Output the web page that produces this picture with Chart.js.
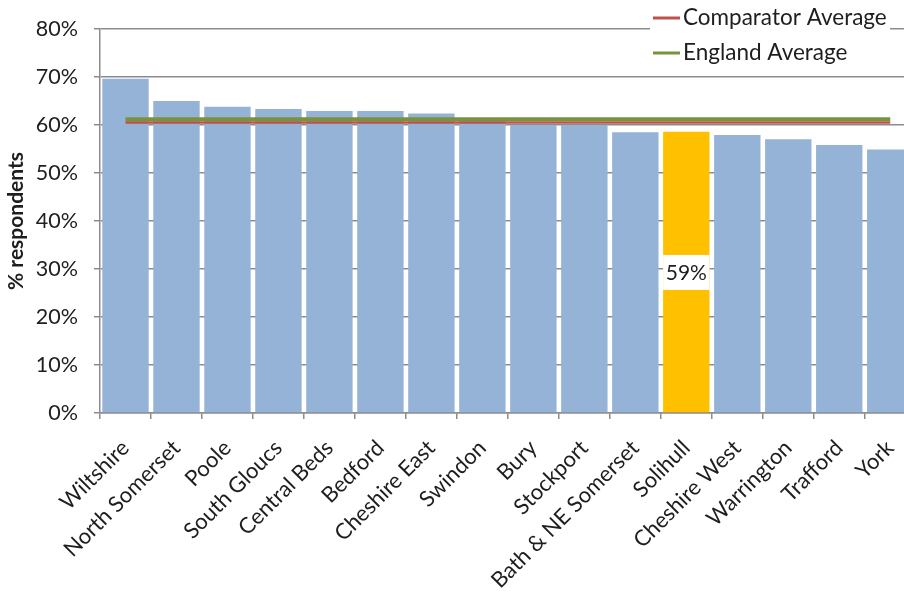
<!DOCTYPE html>
<html>
<head>
<meta charset="utf-8">
<title>% respondents by area</title>
<script src="https://cdn.jsdelivr.net/npm/chart.js@4/dist/chart.umd.min.js"></script>
<style>
  html, body { margin: 0; padding: 0; overflow: hidden; background: #ffffff; }
  #wrap { width: 925px; height: 592px; position: relative; }
</style>
</head>
<body>
<div id="wrap"><canvas id="chart"></canvas></div>
<script>
// Areas, ordered from highest to lowest share of respondents
const areas = [
  'Wiltshire', 'North Somerset', 'Poole', 'South Gloucs', 'Central Beds',
  'Bedford', 'Cheshire East', 'Swindon', 'Bury', 'Stockport',
  'Bath & NE Somerset', 'Solihull', 'Cheshire West', 'Warrington', 'Trafford', 'York'
];
// % respondents for each area
const respondents = [69.6, 65.0, 63.8, 63.3, 62.9, 62.9, 62.4, 61.0, 60.0, 60.0, 58.5, 58.6, 57.9, 57.0, 55.8, 54.9];
// Benchmark averages
const comparatorAverage = 60.5;
const englandAverage = 61.2;
// Area picked out in orange and labelled
const highlightArea = 'Solihull';
// Y axis ticks (%)
const yTicks = [0, 10, 20, 30, 40, 50, 60, 70, 80];

const FONT = 'Lato, "Liberation Sans", sans-serif';
const TEXT = '#1e1e1e';
const GRID = '#8c8c8c';
const BAR = '#95b3d7';
const HIGHLIGHT = '#ffc000';
const RED = '#c0504d';
const GREEN = '#77933c';

// White label box in the middle of the highlighted bar
const valueLabel = {
  id: 'valueLabel',
  afterDatasetsDraw(chart) {
    const idx = areas.indexOf(highlightArea);
    const bar = chart.getDatasetMeta(0).data[idx];
    if (!bar) return;
    const ctx = chart.ctx;
    const { x, y, base, width } = bar.getProps(['x', 'y', 'base', 'width'], true);
    const cy = (y + base) / 2;
    ctx.save();
    ctx.fillStyle = '#ffffff';
    ctx.fillRect(x - width / 2, cy - 17, width, 35);
    ctx.fillStyle = TEXT;
    ctx.font = '21px ' + FONT;
    ctx.textAlign = 'center';
    ctx.textBaseline = 'middle';
    ctx.fillText(Math.round(respondents[idx]) + '%', x, cy + 1);
    ctx.restore();
  }
};

// Legend box sitting over the top right corner of the plot
const cornerLegend = {
  id: 'cornerLegend',
  afterDraw(chart) {
    const ctx = chart.ctx;
    ctx.save();
    ctx.fillStyle = '#ffffff';
    ctx.fillRect(650, 0, 240, 69);
    const items = [
      { label: chart.data.datasets[1].label, color: RED, y: 18 },
      { label: chart.data.datasets[2].label, color: GREEN, y: 53 }
    ];
    ctx.font = '22.5px ' + FONT;
    ctx.textBaseline = 'middle';
    ctx.textAlign = 'left';
    items.forEach(it => {
      ctx.strokeStyle = it.color;
      ctx.lineWidth = 3;
      ctx.beginPath();
      ctx.moveTo(653, it.y);
      ctx.lineTo(680, it.y);
      ctx.stroke();
      ctx.fillStyle = TEXT;
      ctx.fillText(it.label, 683, it.y);
    });
    ctx.restore();
  }
};

new Chart(document.getElementById('chart'), {
  type: 'bar',
  data: {
    labels: areas,
    datasets: [
      {
        type: 'bar',
        label: '% respondents',
        data: respondents,
        backgroundColor: areas.map(a => a === highlightArea ? HIGHLIGHT : BAR),
        borderWidth: 0,
        barPercentage: 0.91,
        categoryPercentage: 1.0,
        order: 3
      },
      {
        type: 'line',
        label: 'Comparator Average',
        data: areas.map(() => comparatorAverage),
        borderColor: RED,
        borderWidth: 2.5,
        pointRadius: 0,
        borderCapStyle: 'butt',
        order: 2
      },
      {
        type: 'line',
        label: 'England Average',
        data: areas.map(() => englandAverage),
        borderColor: GREEN,
        borderWidth: 4,
        pointRadius: 0,
        borderCapStyle: 'butt',
        order: 1
      }
    ]
  },
  options: {
    responsive: true,
    maintainAspectRatio: false,
    animation: false,
    layout: { padding: { top: 26, right: 3, left: 0, bottom: 0 } },
    plugins: {
      legend: { display: false },
      tooltip: { enabled: false }
    },
    scales: {
      x: {
        offset: true,
        grid: {
          offset: true,
          drawOnChartArea: false,
          drawTicks: true,
          tickLength: 6,
          color: GRID,
          lineWidth: 1.5
        },
        border: { color: GRID, width: 1.5 },
        ticks: {
          color: TEXT,
          font: { family: FONT, size: 22 },
          minRotation: 45,
          maxRotation: 45,
          autoSkip: false,
          padding: 16
        },
        afterFit(axis) { axis.height = 179; }
      },
      y: {
        min: 0,
        max: 80,
        afterBuildTicks(axis) { axis.ticks = yTicks.map(v => ({ value: v })); },
        grid: {
          color: GRID,
          lineWidth: 1.5,
          tickLength: 6
        },
        border: { color: GRID, width: 1.5 },
        ticks: {
          color: TEXT,
          font: { family: FONT, size: 21.5 },
          padding: 16,
          callback: v => v + '%'
        },
        title: {
          display: true,
          text: '% respondents',
          color: TEXT,
          font: { family: FONT, size: 21, weight: 'bold' },
          padding: { top: 4, bottom: 0 }
        },
        afterFit(axis) { axis.width = 100; }
      }
    }
  },
  plugins: [valueLabel, cornerLegend]
});
</script>
</body>
</html>
